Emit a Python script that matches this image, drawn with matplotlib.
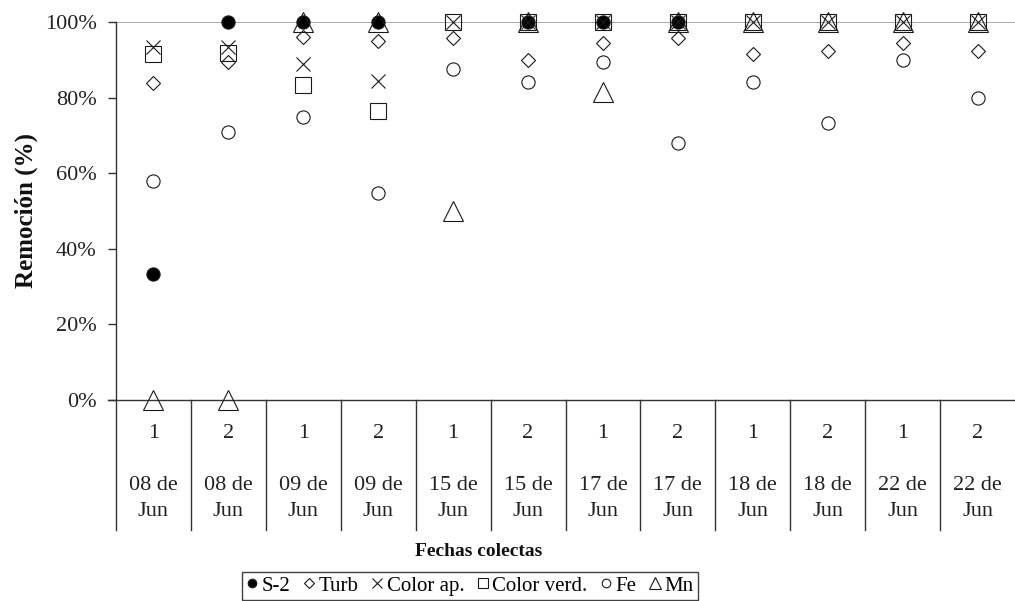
import numpy as np
import matplotlib
matplotlib.use("Agg")
import matplotlib.pyplot as plt
from matplotlib.ticker import PercentFormatter

plt.rcParams['font.family'] = ['Liberation Serif', 'DejaVu Serif']

# muestras y fechas de colecta
samples = ['1', '2', '1', '2', '1', '2', '1', '2', '1', '2', '1', '2']
dates = ['08 de\nJun', '08 de\nJun', '09 de\nJun', '09 de\nJun', '15 de\nJun', '15 de\nJun',
         '17 de\nJun', '17 de\nJun', '18 de\nJun', '18 de\nJun', '22 de\nJun', '22 de\nJun']

# remocion (fraccion)
s2 = [0.333, 1.0, 1.0, 1.0, np.nan, 1.0, 1.0, 1.0, np.nan, np.nan, np.nan, np.nan]
turb = [0.838, 0.895, 0.960, 0.950, 0.957, 0.900, 0.945, 0.957, 0.915, 0.924, 0.945, 0.922]
color_ap = [0.934, 0.934, 0.888, 0.844, 1.0, 1.0, 1.0, 1.0, 1.0, 1.0, 1.0, 1.0]
color_verd = [0.915, 0.918, 0.833, 0.765, 1.0, 1.0, 1.0, 1.0, 1.0, 1.0, 1.0, 1.0]
fe = [0.580, 0.710, 0.750, 0.548, 0.876, 0.842, 0.895, 0.680, 0.842, 0.734, 0.900, 0.798]
mn = [0.0, 0.0, 1.0, 1.0, 0.50, 1.0, 0.816, 1.0, 1.0, 1.0, 1.0, 1.0]

W, H = 1015, 601
fig = plt.figure(figsize=(W / 100, H / 100), dpi=100)
ax = fig.add_axes([116 / W, 1 - 400 / H, (1015 - 116) / W, 378 / H])

x = np.arange(len(samples)) + 0.5
ec = '#1a1a1a'
lw = 0.8
kw = dict(linestyle='none', clip_on=False, markeredgewidth=lw, markeredgecolor=ec)

ax.plot(x, s2, marker='o', markersize=9.5, markerfacecolor='black', label='S-2', **kw)
ax.plot(x, turb, marker='D', markersize=7.5, markerfacecolor='none', label='Turb', **kw)
ax.plot(x, color_ap, marker='x', markersize=10, label='Color ap.', **kw)
ax.plot(x, color_verd, marker='s', markersize=11.5, markerfacecolor='none', label='Color verd.', **kw)
ax.plot(x, fe, marker='o', markersize=9.5, markerfacecolor='none', label='Fe', **kw)
ax.plot(x, mn, marker='^', markersize=14, markerfacecolor='none', label='Mn', **kw)

ax.set_xlim(0, len(samples))
ax.set_ylim(0, 1)
ax.set_yticks(np.arange(0, 1.01, 0.2))
ax.yaxis.set_major_formatter(PercentFormatter(1.0, decimals=0))
ax.tick_params(axis='y', direction='out', length=6, width=1, color='#333333',
               labelsize=16, labelcolor='#222222', pad=8)
ax.set_xticks([])

for s in ['top', 'right', 'bottom']:
    ax.spines[s].set_visible(False)
ax.spines['left'].set_color('#333333')
ax.spines['left'].set_linewidth(1)

# linea superior gris y eje x
ax.axhline(1.0, color='#999999', lw=1.2, zorder=0)
ax.axhline(0.0, xmin=-0.009, xmax=1, color='#333333', lw=1, clip_on=False, zorder=0)

# separadores de categorias
ybot = -(530 - 400) / 378
for k in range(len(samples)):
    ax.plot([k, k], [0, ybot], color='#333333', lw=1, clip_on=False)

# etiquetas de categorias
y1 = -(433 - 400) / 378
yd1 = -(485 - 400) / 378
yd2 = -(511 - 400) / 378
for xi, s, d in zip(x, samples, dates):
    ax.text(xi, y1, s, ha='center', va='center', fontsize=16, color='#222222')
    l1, l2 = d.split('\n')
    ax.text(xi, yd1, l1, ha='center', va='center', fontsize=16, color='#222222')
    ax.text(xi, yd2, l2, ha='center', va='center', fontsize=16, color='#222222')

fig.text(26 / W, 1 - 211 / H, 'Remoción (%)', rotation=90, ha='center', va='center',
         fontsize=18, fontweight='bold', color='#111111')
fig.text(479 / W, 1 - 552 / H, 'Fechas colectas', ha='center', va='center',
         fontsize=14, fontweight='bold', color='#111111')

leg = fig.legend(loc='upper center', bbox_to_anchor=(470 / W, 1 - 572 / H), ncol=6,
                 frameon=True, fancybox=False, edgecolor='#111111', fontsize=15,
                 handlelength=0.6, handletextpad=0.15, columnspacing=0.6,
                 markerscale=0.65, borderpad=0.2, borderaxespad=0)
leg.get_frame().set_linewidth(1)

fig.savefig('out.png', dpi=100)
